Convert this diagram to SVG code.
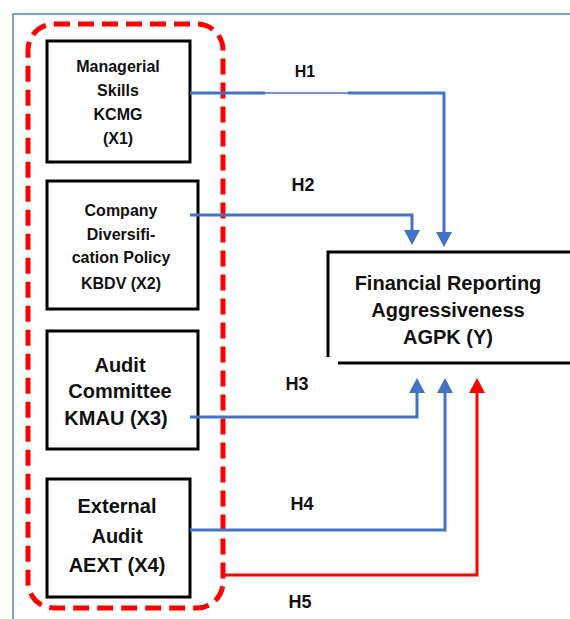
<svg xmlns="http://www.w3.org/2000/svg" width="570" height="619" viewBox="0 0 570 619">
<style>
.box{fill:#fff;stroke:#000;stroke-width:3}
.t{font-family:"Liberation Sans",Arial,sans-serif;font-weight:bold;fill:#111;text-anchor:middle}
.s16{font-size:16px}
.s20{font-size:20px}
.lab{font-size:18px}
.blue{fill:none;stroke:#4472C4;stroke-width:3}
.red{fill:none;stroke:#FF0000;stroke-width:3}
</style>
<defs>
<marker id="ab" viewBox="0 0 15 16" refX="3" refY="8" markerWidth="15" markerHeight="16" markerUnits="userSpaceOnUse" orient="auto">
<path d="M0,0 L15,8 L0,16 z" fill="#4472C4"/>
</marker>
<marker id="ar" viewBox="0 0 15 16" refX="3" refY="8" markerWidth="15" markerHeight="16" markerUnits="userSpaceOnUse" orient="auto">
<path d="M0,0 L15,8 L0,16 z" fill="#FF0000"/>
</marker>
</defs>
<rect width="570" height="619" fill="#fff"/>
<path d="M13,619 V14 H570" fill="none" stroke="#4F81BD" stroke-width="1.5"/>
<rect id="group-border" x="28" y="24" width="195" height="584" rx="26" fill="none" stroke="#FF0000" stroke-width="5" stroke-dasharray="16 8"/>

<g id="x1">
<rect class="box" x="47" y="41" width="143" height="121"/>
<text class="t s16" x="118" y="72">Managerial</text>
<text class="t s16" x="118" y="96">Skills</text>
<text class="t s16" x="118" y="120">KCMG</text>
<text class="t s16" x="118" y="144">(X1)</text>
</g>

<g id="x2">
<rect class="box" x="47" y="181" width="151" height="128"/>
<text class="t s16" x="121" y="216">Company</text>
<text class="t s16" x="121" y="240">Diversifi-</text>
<text class="t s16" x="121" y="263">cation Policy</text>
<text class="t s16" x="121" y="289">KBDV (X2)</text>
</g>

<g id="x3">
<rect class="box" x="47" y="331" width="151" height="118"/>
<text class="t s20" x="120" y="372">Audit</text>
<text class="t s20" x="120" y="398">Committee</text>
<text class="t s20" x="116" y="425">KMAU (X3)</text>
</g>

<g id="x4">
<rect class="box" x="47" y="479" width="143" height="118"/>
<text class="t s20" x="117" y="513">External</text>
<text class="t s20" x="117" y="543">Audit</text>
<text class="t s20" x="117" y="572">AEXT (X4)</text>
</g>

<g id="y">
<rect x="328" y="252" width="250" height="111" fill="#fff"/>
<path d="M328,357 V252 H572" fill="none" stroke="#000" stroke-width="3"/>
<path d="M338,363 H572" fill="none" stroke="#000" stroke-width="3"/>
<text class="t s20" x="448" y="290">Financial Reporting</text>
<text class="t s20" x="448" y="317">Aggressiveness</text>
<text class="t s20" x="448" y="344">AGPK (Y)</text>
</g>

<g id="connectors">
<path class="blue" d="M190,93 H265"/>
<path d="M265,93 H348" fill="none" stroke="#4472C4" stroke-width="1.5"/>
<path class="blue" d="M348,93 H444 V235" marker-end="url(#ab)"/>
<path class="blue" d="M190,215 H412 V233" marker-end="url(#ab)"/>
<path class="blue" d="M190,417 H417 V390" marker-end="url(#ab)"/>
<path class="blue" d="M190,530 H445 V390" marker-end="url(#ab)"/>
<path class="red" d="M223,575 H477 V390" marker-end="url(#ar)"/>
<text class="t s16" x="305" y="77">H1</text>
<text class="t lab" x="303" y="191">H2</text>
<text class="t lab" x="297" y="390">H3</text>
<text class="t lab" x="302" y="510">H4</text>
<text class="t lab" x="300" y="608">H5</text>
</g>
</svg>
